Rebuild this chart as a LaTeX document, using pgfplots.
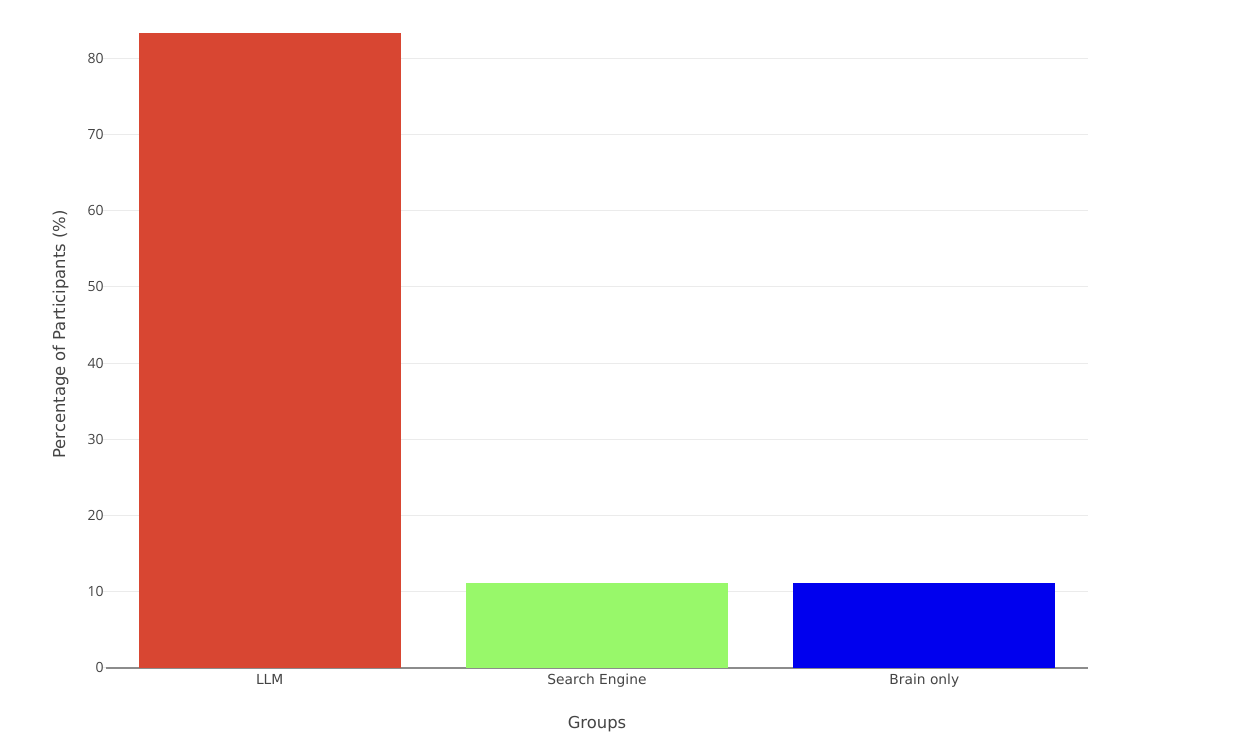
\documentclass[border=0pt]{standalone}
\usepackage{pgfplots}
\pgfplotsset{compat=1.18}
\usepackage{fontspec}
\setmainfont{DejaVu Sans}
\newfontfamily\tickfont{Open Sans}
\definecolor{llmred}{RGB}{216,70,50}
\definecolor{segreen}{RGB}{152,248,106}
\definecolor{brblue}{RGB}{0,0,238}
\definecolor{gridgray}{RGB}{235,235,235}
\definecolor{axgray}{RGB}{140,140,140}
\definecolor{txtgray}{RGB}{68,68,68}
\begin{document}
\begin{tikzpicture}
\path[use as bounding box] (0,0) rectangle (627pt,374pt);
\begin{axis}[
  at={(53pt,40pt)}, anchor=south west,
  scale only axis,
  width=491pt, height=333.5pt,
  xmin=-0.5, xmax=2.5,
  ymin=0, ymax=87.5,
  axis x line*=bottom,
  axis y line*=left,
  x axis line style={axgray, line width=1pt},
  y axis line style={draw=none},
  xtick={0,1,2},
  xticklabels={LLM,Search Engine,Brain only},
  xtick style={draw=none},
  xticklabel style={font=\fontsize{6.9pt}{8pt}\selectfont, text=txtgray, yshift=2pt},
  ytick={0,10,20,30,40,50,60,70,80},
  ytick style={gridgray, line width=0.5pt},
  tick align=outside,
  major tick length=1.5pt,
  ymajorgrids,
  grid style={gridgray, line width=0.5pt},
  yticklabel style={font=\tickfont\fontsize{7pt}{8pt}\selectfont, text=txtgray, inner xsep=0pt, xshift=0.5pt},
  /pgf/number format/assume math mode=true,
  xlabel={Groups},
  xlabel style={font=\fontsize{8.2pt}{9.5pt}\selectfont, text=txtgray, yshift=-7.5pt},
  ylabel={Percentage of Participants (\%)},
  ylabel style={font=\fontsize{8.2pt}{9.5pt}\selectfont, text=txtgray, yshift=6pt},
  clip=false,
  bar width=0.8,
]
\addplot[ybar, fill=llmred, draw=none] coordinates {(0,83.33)};
\addplot[ybar, fill=segreen, draw=none] coordinates {(1,11.11)};
\addplot[ybar, fill=brblue, draw=none] coordinates {(2,11.11)};
\end{axis}
\end{tikzpicture}
\end{document}
